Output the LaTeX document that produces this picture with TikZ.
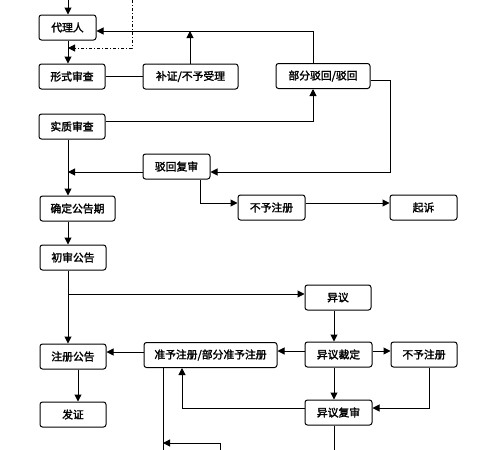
\documentclass[tikz,border=0pt]{standalone}
\usepackage{fontspec}
\setmainfont{Noto Sans CJK SC}[AutoFakeBold=2]
\usetikzlibrary{arrows.meta}
\begin{document}
\begin{tikzpicture}[x=1pt,y=-1pt,
  box/.style={draw, line width=1pt, rounded corners=2.5pt, minimum height=25pt, inner sep=0pt, font=\fontsize{10.8}{12}\selectfont\bfseries},
  ln/.style={line width=1pt},
  arr/.style={line width=1pt, -{Triangle[length=7pt,width=7pt]}},
  dd/.style={line width=1pt, dash dot, -{Triangle[length=7pt,width=7pt]}}]
\useasboundingbox (0,0) rectangle (480,450);
% nodes
\node[box, minimum width=57pt] (dl) at (67.5,27.5) {代理人};
\node[box, minimum width=66pt] (xs) at (72,76.5) {形式审查};
\node[box, minimum width=95pt] (bz) at (190.5,76.5) {补证/不予受理};
\node[box, minimum width=94pt] (bf) at (323,76) {部分驳回/驳回};
\node[box, minimum width=66pt] (sz) at (72,126.5) {实质审查};
\node[box, minimum width=67pt] (bh) at (176.5,166.5) {驳回复审};
\node[box, minimum width=75pt] (qd) at (77.5,208.5) {确定公告期};
\node[box, minimum width=67pt] (bzA) at (271.5,207.5) {不予注册};
\node[box, minimum width=67pt] (qs) at (423.5,207.5) {起诉};
\node[box, minimum width=66pt] (cs) at (73,257.5) {初审公告};
\node[box, minimum width=66pt] (yy) at (338,297.5) {异议};
\node[box, minimum width=66pt] (zc) at (73,356.5) {注册公告};
\node[box, minimum width=133pt] (zy) at (210.5,355) {准予注册/部分准予注册};
\node[box, minimum width=67pt] (yd) at (338.5,354.5) {异议裁定};
\node[box, minimum width=66pt] (bzB) at (424,354.5) {不予注册};
\node[box, minimum width=66pt] (fz) at (73,414.5) {发证};
\node[box, minimum width=67pt] (yf) at (338.5,412.5) {异议复审};
% helper coordinates
\coordinate (t1) at (68,0);
\coordinate (t2) at (132,0);
\coordinate (d1) at (132,48);
\coordinate (d2) at (68,48);
\coordinate (j1) at (190,31);
\coordinate (j2) at (313,31);
\coordinate (j3) at (313,121);
\coordinate (r1) at (390,80);
\coordinate (r2) at (390,172);
\coordinate (m1) at (68,172);
\coordinate (b1) at (200,203);
\coordinate (o1) at (68,294);
\coordinate (c1) at (334,0);
\coordinate (c2) at (429,408);
\coordinate (c3) at (182,408);
\coordinate (e1) at (163,450);
\coordinate (e2) at (220,450);
\coordinate (e3) at (220,443);
\coordinate (e4) at (163,443);
\coordinate (e5) at (334,450);
\coordinate (fx) at (78,0);
% connectors
\draw[arr] (t1) -- (t1 |- dl.north);
\draw[arr] (t1 |- dl.south) -- (t1 |- xs.north);
\draw[dd] (t2) -- (d1) -- (d2);
\draw[ln] (xs.east) -- (bz.west);
\draw[arr] (j1 |- bz.north) -- (j1);
\draw[arr] (j2 |- bf.north) -- (j2) -- (j2 -| dl.east);
\draw[arr] (j3 -| sz.east) -- (j3) -- (j3 |- bf.south);
\draw[arr] (r1 -| bf.east) -- (r1) -- (r2) -- (r2 -| bh.east);
\draw[arr] (r2 -| bh.west) -- (m1);
\draw[arr] (t1 |- sz.south) -- (t1 |- qd.north);
\draw[arr] (b1 |- bh.south) -- (b1) -- (b1 -| bzA.west);
\draw[arr] (b1 -| bzA.east) -- (b1 -| qs.west);
\draw[arr] (t1 |- qd.south) -- (t1 |- cs.north);
\draw[arr] (t1 |- cs.south) -- (t1 |- zc.north);
\draw[arr] (o1) -- (o1 -| yy.west);
\draw[arr] (c1 |- yy.south) -- (c1 |- yd.north);
\draw[arr] (yd.west |- 0,351) -- (zy.east |- 0,351);
\draw[arr] (yd.east |- 0,351) -- (bzB.west |- 0,351);
\draw[arr] (zy.west |- 0,352) -- (zc.east |- 0,352);
\draw[arr] (fx |- zc.south) -- (fx |- fz.north);
\draw[arr] (c1 |- yd.south) -- (c1 |- yf.north);
\draw[arr] (c2 |- bzB.south) -- (c2) -- (c2 -| yf.east);
\draw[arr] (c2 -| yf.west) -- (c3) -- (c3 |- zy.south);
\draw[ln] (e1 |- zy.south) -- (e1);
\draw[arr] (e2) -- (e3) -- (e4);
\draw[ln] (c1 |- yf.south) -- (e5);
\end{tikzpicture}
\end{document}
